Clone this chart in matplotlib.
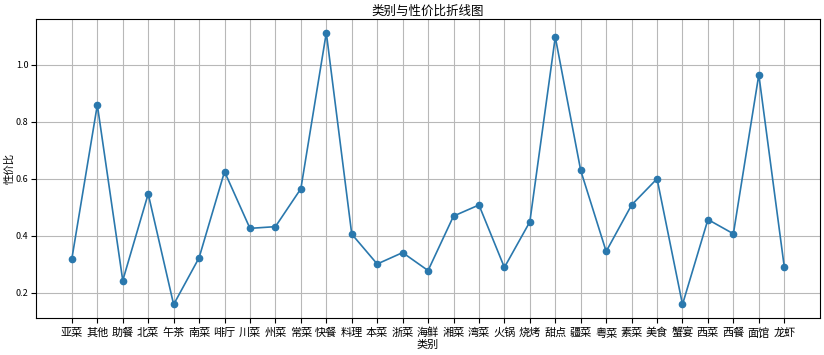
import matplotlib
matplotlib.use("Agg")
import matplotlib.pyplot as plt

plt.rcParams['font.family'] = ['Noto Sans CJK SC', 'DejaVu Sans']
plt.rcParams['axes.unicode_minus'] = False

categories = ["亚菜", "其他", "助餐", "北菜", "午茶", "南菜", "啡厅", "川菜", "州菜", "常菜",
              "快餐", "料理", "本菜", "浙菜", "海鲜", "湘菜", "湾菜", "火锅", "烧烤", "甜点",
              "疆菜", "粤菜", "素菜", "美食", "蟹宴", "西菜", "西餐", "面馆", "龙虾"]
values = [0.320, 0.859, 0.243, 0.547, 0.159, 0.323, 0.625, 0.426, 0.432, 0.565,
          1.112, 0.406, 0.301, 0.341, 0.278, 0.469, 0.508, 0.289, 0.449, 1.097,
          0.629, 0.345, 0.508, 0.600, 0.159, 0.457, 0.407, 0.965, 0.291]

fig = plt.figure(figsize=(8.24, 3.55), dpi=100)
ax = fig.add_axes([0.044, 0.104, 0.951, 0.842])

ax.plot(categories, values, marker='o', markersize=4.5, color='#2a78ad', linewidth=1.2)
ax.set_title("类别与性价比折线图", fontsize=9, pad=3)
ax.set_xlabel("类别", fontsize=8, labelpad=1)
ax.set_ylabel("性价比", fontsize=7.5, labelpad=1)
ax.tick_params(axis='x', labelsize=8, pad=3.5)
ax.tick_params(axis='y', labelsize=6.5, pad=2)
ax.grid(True, color='#b8b8b8', linewidth=0.8)

fig.savefig("out.png", dpi=100)
